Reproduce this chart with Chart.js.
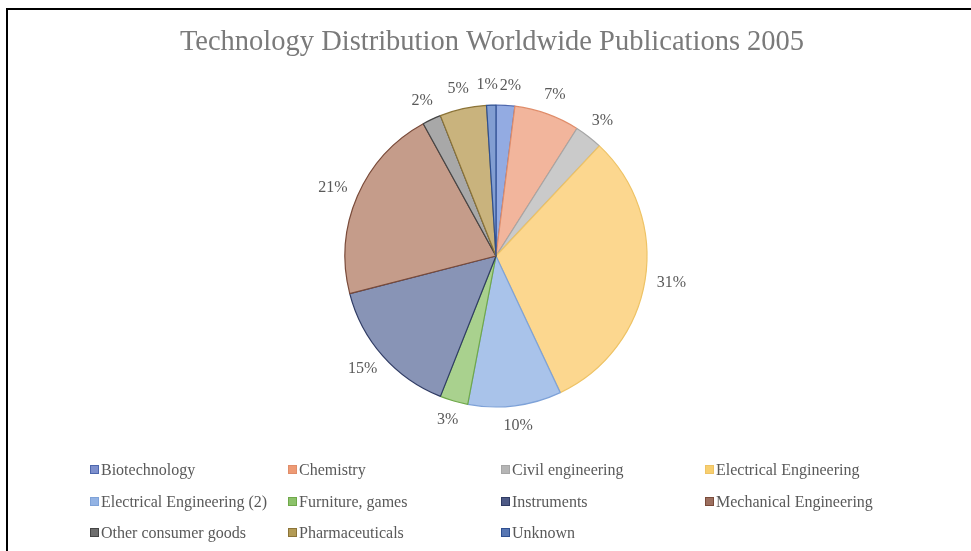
<!DOCTYPE html>
<html>
<head>
<meta charset="utf-8">
<script src="https://cdn.jsdelivr.net/npm/chart.js@4/dist/chart.umd.min.js"></script>
<style>
  html, body { margin: 0; padding: 0; background: #ffffff; }
  #wrap { position: relative; width: 971px; height: 551px; }
</style>
</head>
<body>
<div id="wrap"><canvas id="c"></canvas></div>
<script>
const titleText = 'Technology Distribution Worldwide Publications 2005';
const categories = [
  'Biotechnology', 'Chemistry', 'Civil engineering', 'Electrical Engineering',
  'Electrical Engineering (2)', 'Furniture, games', 'Instruments', 'Mechanical Engineering',
  'Other consumer goods', 'Pharmaceuticals', 'Unknown'
];
const shares = [2, 7, 3, 31, 10, 3, 15, 21, 2, 5, 1];
const percentLabels = ['2%', '7%', '3%', '31%', '10%', '3%', '15%', '21%', '2%', '5%', '1%'];
const fillColors = ['#93abe2', '#f2b59c', '#cacaca', '#fcd78f', '#a9c3ea', '#a9d18e', '#8894b6', '#c59c8a', '#a8a8a8', '#c9b37d', '#829ed2'];
const edgeColors = ['#4d67ad', '#e08d6a', '#a6a6a6', '#eec365', '#7ea2d8', '#6fa84a', '#2f3b64', '#7a4b3a', '#454545', '#8c7438', '#2f5091'];
const legendSwatch = ['#7d8fcd', '#ee9a74', '#b5b5b5', '#f8cf6f', '#93b3e4', '#8cc26a', '#4e5a86', '#9c6f5f', '#6e6e6e', '#b39b55', '#5877b3'];

const serif = '"Liberation Serif", "DejaVu Serif", serif';

const decor = {
  id: 'decor',
  beforeDraw(chart) {
    const ctx = chart.ctx;
    ctx.save();
    ctx.fillStyle = '#000000';
    ctx.fillRect(6, 8, 965, 2);
    ctx.fillRect(6, 8, 2, 543);
    ctx.fillStyle = '#7a7a7a';
    ctx.font = '28.5px ' + serif;
    ctx.textAlign = 'center';
    ctx.textBaseline = 'alphabetic';
    ctx.fillText(titleText, 492, 50);
    ctx.restore();
  },
  afterDraw(chart) {
    const ctx = chart.ctx;
    const meta = chart.getDatasetMeta(0);
    ctx.save();
    ctx.font = '16px ' + serif;
    ctx.fillStyle = '#595959';
    ctx.textBaseline = 'middle';
    ctx.textAlign = 'center';
    const boxes = meta.data.map((arc, i) => {
      const p = arc.getProps(['x', 'y', 'startAngle', 'endAngle', 'outerRadius'], true);
      const a = (p.startAngle + p.endAngle) / 2;
      const w = ctx.measureText(percentLabels[i]).width;
      const h = 16;
      const r = p.outerRadius + 12;
      return { cx: p.x + Math.cos(a) * (r + w / 2), cy: p.y + Math.sin(a) * (r + h / 2), w, h };
    });
    // resolve overlaps between neighbouring labels by pushing them apart horizontally
    const n = boxes.length;
    for (let i = 0; i < n; i++) {
      const A = boxes[i], B = boxes[(i + 1) % n];
      const overlapX = (A.w + B.w) / 2 + 2 - Math.abs(A.cx - B.cx);
      const overlapY = (A.h + B.h) / 2 - Math.abs(A.cy - B.cy);
      if (overlapX > 0 && overlapY > 0) {
        const s = A.cx <= B.cx ? 1 : -1;
        A.cx -= s * overlapX / 2;
        B.cx += s * overlapX / 2;
      }
    }
    boxes.forEach((b, i) => ctx.fillText(percentLabels[i], b.cx, b.cy));
    // legend grid
    const colX = [90, 288, 501, 705];
    const rowY = [470, 502, 533];
    ctx.textAlign = 'left';
    categories.forEach((name, i) => {
      const x = colX[i % 4];
      const y = rowY[Math.floor(i / 4)];
      ctx.fillStyle = legendSwatch[i];
      ctx.fillRect(x, y - 5, 9, 9);
      ctx.strokeStyle = edgeColors[i];
      ctx.lineWidth = 1;
      ctx.strokeRect(x + 0.5, y - 4.5, 8, 8);
      ctx.fillStyle = '#595959';
      ctx.fillText(name, x + 11, y + 1);
    });
    ctx.restore();
  }
};

new Chart(document.getElementById('c'), {
  type: 'pie',
  data: {
    labels: categories,
    datasets: [{
      data: shares,
      backgroundColor: fillColors,
      borderColor: edgeColors,
      borderWidth: 1.2
    }]
  },
  options: {
    responsive: true,
    maintainAspectRatio: false,
    animation: false,
    radius: 151,
    layout: { padding: { left: 341, right: 320, top: 101, bottom: 140 } },
    plugins: {
      legend: { display: false },
      title: { display: false },
      tooltip: { enabled: false }
    }
  },
  plugins: [decor]
});
</script>
</body>
</html>
